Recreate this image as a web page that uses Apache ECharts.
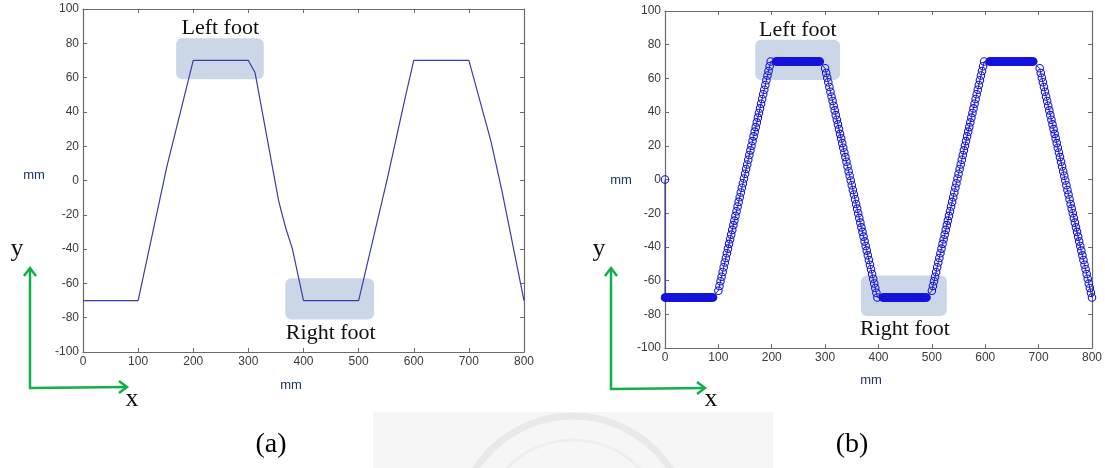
<!DOCTYPE html>
<html>
<head>
<meta charset="utf-8">
<title>foot trajectory</title>
<script src="https://cdn.jsdelivr.net/npm/echarts/dist/echarts.min.js"></script>
<style>
  html, body { margin: 0; padding: 0; background: #fff; }
  #main { width: 1105px; height: 468px; }
</style>
</head>
<body>
<div id="main"></div>
<script>
// tick labels
const xTicks = [0, 100, 200, 300, 400, 500, 600, 700, 800];
const yTicks = [-100, -80, -60, -40, -20, 0, 20, 40, 60, 80, 100];

// (a) plain line, corner points
const lineX = [0, 100, 152, 200, 300, 312, 355, 368, 380, 400, 500, 552, 585, 600, 700, 740, 760, 800];
const lineY = [-70, -70, 8, 70, 70, 63, -12, -28, -40, -70, -70, 1, 49, 70, 70, 23, -6, -70];

// (b) sampled points, one list per stretch
const startPoint = [0, 0];
const footLow = -70;
const footHigh = 70;
const lowFoot1X = [0, 2, 4, 6, 8, 10, 12, 14, 16, 18, 20, 22, 24, 26, 28, 30, 32, 34, 36, 38, 40, 42, 44,
  46, 48, 50, 52, 54, 56, 58, 60, 62, 64, 66, 68, 70, 72, 74, 76, 78, 80, 82, 84, 86, 88, 90];
const rampUp1X = [100, 102, 104, 106, 108, 110, 112, 114, 116, 118, 120, 122, 124, 126, 128, 130, 132, 134,
  136, 138, 140, 142, 144, 146, 148, 150, 152, 154, 156, 158, 160, 162, 164, 166, 168, 170, 172, 174, 176,
  178, 180, 182, 184, 186, 188, 190, 192, 194, 196, 198];
const highFoot1X = [208, 210, 212, 214, 216, 218, 220, 222, 224, 226, 228, 230, 232, 234, 236, 238, 240, 242,
  244, 246, 248, 250, 252, 254, 256, 258, 260, 262, 264, 266, 268, 270, 272, 274, 276, 278, 280, 282, 284,
  286, 288, 290];
const rampDown1X = [300, 302, 304, 306, 308, 310, 312, 314, 316, 318, 320, 322, 324, 326, 328, 330, 332, 334,
  336, 338, 340, 342, 344, 346, 348, 350, 352, 354, 356, 358, 360, 362, 364, 366, 368, 370, 372, 374, 376,
  378, 380, 382, 384, 386, 388, 390, 392, 394, 396, 398];
const lowFoot2X = [408, 410, 412, 414, 416, 418, 420, 422, 424, 426, 428, 430, 432, 434, 436, 438, 440, 442,
  444, 446, 448, 450, 452, 454, 456, 458, 460, 462, 464, 466, 468, 470, 472, 474, 476, 478, 480, 482, 484,
  486, 488, 490];
const rampUp2X = [500, 502, 504, 506, 508, 510, 512, 514, 516, 518, 520, 522, 524, 526, 528, 530, 532, 534,
  536, 538, 540, 542, 544, 546, 548, 550, 552, 554, 556, 558, 560, 562, 564, 566, 568, 570, 572, 574, 576,
  578, 580, 582, 584, 586, 588, 590, 592, 594, 596, 598];
const highFoot2X = [608, 610, 612, 614, 616, 618, 620, 622, 624, 626, 628, 630, 632, 634, 636, 638, 640, 642,
  644, 646, 648, 650, 652, 654, 656, 658, 660, 662, 664, 666, 668, 670, 672, 674, 676, 678, 680, 682, 684,
  686, 688, 690];
const rampDown2X = [702, 704, 706, 708, 710, 712, 714, 716, 718, 720, 722, 724, 726, 728, 730, 732, 734, 736,
  738, 740, 742, 744, 746, 748, 750, 752, 754, 756, 758, 760, 762, 764, 766, 768, 770, 772, 774, 776, 778,
  780, 782, 784, 786, 788, 790, 792, 794, 796, 798, 800];
const rampUpY = [-66.0, -63.2, -60.4, -57.7, -54.9, -52.1, -49.3, -46.6, -43.8, -41.0, -38.2, -35.5, -32.7,
  -29.9, -27.1, -24.4, -21.6, -18.8, -16.0, -13.3, -10.5, -7.7, -4.9, -2.2, 0.6, 3.4, 6.2, 8.9, 11.7, 14.5,
  17.3, 20.0, 22.8, 25.6, 28.4, 31.1, 33.9, 36.7, 39.5, 42.2, 45.0, 47.8, 50.6, 53.3, 56.1, 58.9, 61.7, 64.4,
  67.2, 70.0];
const rampDownY = [66.0, 63.2, 60.4, 57.7, 54.9, 52.1, 49.3, 46.6, 43.8, 41.0, 38.2, 35.5, 32.7, 29.9, 27.1,
  24.4, 21.6, 18.8, 16.0, 13.3, 10.5, 7.7, 4.9, 2.2, -0.6, -3.4, -6.2, -8.9, -11.7, -14.5, -17.3, -20.0,
  -22.8, -25.6, -28.4, -31.1, -33.9, -36.7, -39.5, -42.2, -45.0, -47.8, -50.6, -53.3, -56.1, -58.9, -61.7,
  -64.4, -67.2, -70.0];

const markerBlue = "#1414dc";

function pairs(xs, ys) {
  return xs.map((x, i) => [x, Array.isArray(ys) ? ys[i] : ys]);
}
// foot-down stretches are so dense that the circles merge into a solid bar
function flat(xs, y) {
  return xs.map((x) => ({ value: [x, y], itemStyle: { color: markerBlue } }));
}

const dataA = pairs(lineX, lineY);
const dataB = [startPoint].concat(
  flat(lowFoot1X, footLow),
  pairs(rampUp1X, rampUpY),
  flat(highFoot1X, footHigh),
  pairs(rampDown1X, rampDownY),
  flat(lowFoot2X, footLow),
  pairs(rampUp2X, rampUpY),
  flat(highFoot2X, footHigh),
  pairs(rampDown2X, rampDownY)
);

const axisColor = "#6a6a6a";
const labelFont = "'Liberation Sans', Arial, sans-serif";
const serif = "'Liberation Serif', 'Times New Roman', serif";

function xAxisOf(gridIndex, position) {
  const main = position === "bottom";
  return {
    type: "value",
    gridIndex: gridIndex,
    position: position,
    min: xTicks[0],
    max: xTicks[xTicks.length - 1],
    interval: xTicks[1] - xTicks[0],
    axisLine: { show: true, onZero: false, lineStyle: { color: axisColor, width: 1.2 } },
    axisTick: { show: true, inside: true, length: 4, lineStyle: { color: axisColor } },
    axisLabel: { show: main, color: "#3a3a3a", fontSize: 12, fontFamily: labelFont, margin: 4 },
    splitLine: { show: false },
  };
}

function yAxisOf(gridIndex, position) {
  const main = position === "left";
  return {
    type: "value",
    gridIndex: gridIndex,
    position: position,
    min: yTicks[0],
    max: yTicks[yTicks.length - 1],
    interval: yTicks[1] - yTicks[0],
    axisLine: { show: true, onZero: false, lineStyle: { color: axisColor, width: 1.2 } },
    axisTick: { show: true, inside: true, length: 4, lineStyle: { color: axisColor } },
    axisLabel: { show: main, color: "#3a3a3a", fontSize: 12, fontFamily: labelFont, margin: 4 },
    splitLine: { show: false },
  };
}

const chart = echarts.init(document.getElementById("main"));
chart.setOption({
  animation: false,
  backgroundColor: "#fff",
  grid: [
    { left: 83, top: 9, width: 441, height: 343 },
    { left: 665, top: 11, width: 427, height: 337 },
  ],
  xAxis: [xAxisOf(0, "bottom"), xAxisOf(0, "top"), xAxisOf(1, "bottom"), xAxisOf(1, "top")],
  yAxis: [yAxisOf(0, "left"), yAxisOf(0, "right"), yAxisOf(1, "left"), yAxisOf(1, "right")],
  series: [
    {
      name: "(a)",
      type: "line",
      xAxisIndex: 0,
      yAxisIndex: 0,
      showSymbol: false,
      lineStyle: { color: "#3c3ca8", width: 1.2 },
      data: dataA,
    },
    {
      name: "(b)",
      type: "line",
      xAxisIndex: 2,
      yAxisIndex: 2,
      symbol: "circle",
      symbolSize: 7.5,
      showAllSymbol: true,
      lineStyle: { color: "#22229a", width: 1 },
      itemStyle: { color: "rgba(0,0,0,0)", borderColor: markerBlue, borderWidth: 1.1 },
      data: dataB,
    },
  ],
});

// shaded foot boxes, given in data units
const footBoxes = [
  { text: "Left foot", x: [169, 328], y: [59, 83], label: [249, 88.6] },
  { text: "Right foot", x: [367, 528], y: [-81, -57], label: [449.5, -89] },
];

const graphic = [];
[0, 2].forEach((axisIndex) => {
  const finder = { xAxisIndex: axisIndex, yAxisIndex: axisIndex };
  footBoxes.forEach((b) => {
    const p1 = chart.convertToPixel(finder, [b.x[0], b.y[1]]);
    const p2 = chart.convertToPixel(finder, [b.x[1], b.y[0]]);
    const pl = chart.convertToPixel(finder, b.label);
    graphic.push({
      type: "rect",
      z: 0,
      shape: { x: p1[0], y: p1[1], width: p2[0] - p1[0], height: p2[1] - p1[1], r: 6 },
      style: { fill: "#cbd7e7" },
    });
    graphic.push({
      type: "text",
      z: 5,
      style: {
        text: b.text, x: pl[0], y: pl[1], align: "center", verticalAlign: "middle",
        fontSize: 22, fontFamily: serif, fill: "#111",
      },
    });
  });
});

// axis unit labels
function textAt(text, x, y, size, family, color) {
  return {
    type: "text",
    z: 5,
    style: { text: text, x: x, y: y, align: "center", verticalAlign: "middle", fontSize: size, fontFamily: family, fill: color },
  };
}
graphic.push(textAt("mm", 34, 175, 13, labelFont, "#1f3660"));
graphic.push(textAt("mm", 291, 385, 13, labelFont, "#1f3660"));
graphic.push(textAt("mm", 621, 180, 13, labelFont, "#1f3660"));
graphic.push(textAt("mm", 871, 380, 13, labelFont, "#1f3660"));

// faint seal behind the captions
graphic.push({ type: "rect", z: 0, shape: { x: 373, y: 412, width: 400, height: 56 }, style: { fill: "#f6f6f6" } });
graphic.push({ type: "circle", z: 0, shape: { cx: 573, cy: 532, r: 116 }, style: { fill: null, stroke: "#e9e9e9", lineWidth: 7 } });
graphic.push({ type: "circle", z: 0, shape: { cx: 573, cy: 532, r: 92 }, style: { fill: null, stroke: "#eeeeee", lineWidth: 3 } });

// green reference frames
const green = "#12b04a";
function frame(ox, oy, topY, rightX) {
  const s = { stroke: green, lineWidth: 2.5, fill: null };
  return [
    { type: "polyline", z: 5, shape: { points: [[ox, topY], [ox, oy], [rightX, oy - 1]] }, style: s },
    { type: "polyline", z: 5, shape: { points: [[ox - 6, topY + 8], [ox, topY], [ox + 6, topY + 8]] }, style: s },
    { type: "polyline", z: 5, shape: { points: [[rightX - 8, oy - 7], [rightX, oy - 1], [rightX - 8, oy + 5]] }, style: s },
  ];
}
frame(30, 388, 268, 127).forEach((g) => graphic.push(g));
frame(611, 389, 268, 705).forEach((g) => graphic.push(g));
graphic.push(textAt("y", 17, 249, 26, serif, "#111"));
graphic.push(textAt("x", 132, 399, 26, serif, "#111"));
graphic.push(textAt("y", 599, 249, 26, serif, "#111"));
graphic.push(textAt("x", 711, 399, 26, serif, "#111"));

// captions
graphic.push(textAt("(a)", 271, 445, 28, serif, "#000"));
graphic.push(textAt("(b)", 852, 445, 28, serif, "#000"));

chart.setOption({ graphic: graphic });
</script>
</body>
</html>
